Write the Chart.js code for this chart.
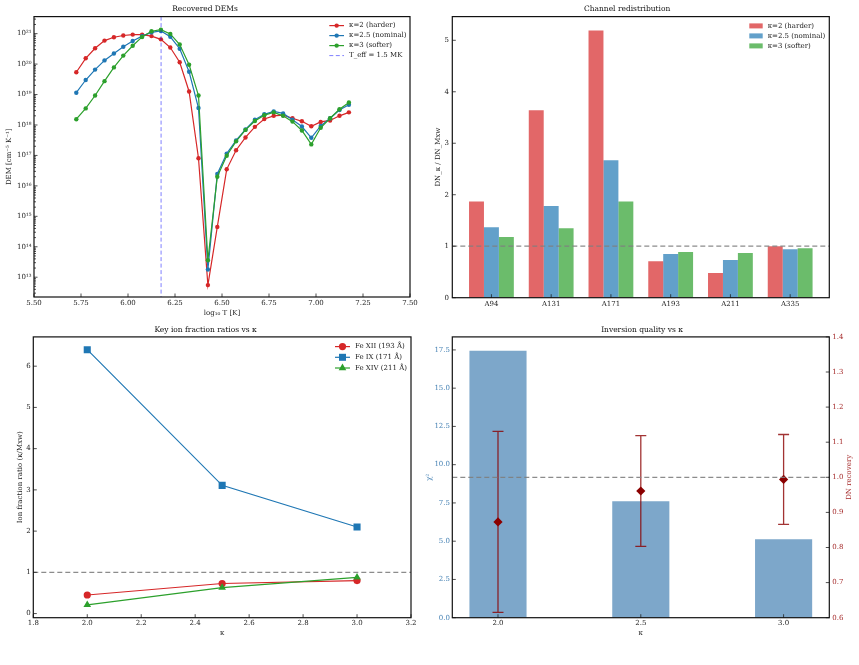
<!DOCTYPE html>
<html>
<head>
<meta charset="utf-8">
<script src="https://cdn.jsdelivr.net/npm/chart.js@4.4.1/dist/chart.umd.min.js"></script>
<style>
  body { margin: 0; background: #fff; width: 859px; height: 665px; position: relative; overflow: hidden; }
  canvas { position: absolute; }
</style>
</head>
<body>
<canvas id="dem" width="425" height="320" style="left:0;top:0"></canvas>
<canvas id="chan" width="434" height="320" style="left:425px;top:0"></canvas>
<canvas id="ion" width="425" height="345" style="left:0;top:320px"></canvas>
<canvas id="qual" width="434" height="345" style="left:425px;top:320px"></canvas>
<script>
// ---- data ----
const kappaLabels = ["κ=2 (harder)", "κ=2.5 (nominal)", "κ=3 (softer)"];

// Recovered DEMs
const logT = [5.725, 5.775, 5.825, 5.875, 5.925, 5.975, 6.025, 6.075, 6.125, 6.175,
  6.225, 6.275, 6.325, 6.375, 6.425, 6.475, 6.525, 6.575, 6.625, 6.675,
  6.725, 6.775, 6.825, 6.875, 6.925, 6.975, 7.025, 7.075, 7.125, 7.175];
const demK2 = [5.4e19, 1.55e20, 3.3e20, 5.9e20, 7.6e20, 8.7e20, 9.3e20, 9.3e20, 8.3e20, 6.5e20,
  3.5e20, 1.15e20, 1.26e19, 8.1e16, 5.5e12, 4.5e14, 3.5e16, 1.48e17, 3.9e17, 8.7e17,
  1.58e18, 2.0e18, 2.1e18, 1.66e18, 1.32e18, 9.1e17, 1.26e18, 1.41e18, 2.0e18, 2.6e18];
const demK25 = [1.15e19, 3.0e19, 6.6e19, 1.32e20, 2.24e20, 3.7e20, 5.75e20, 8.3e20, 1.1e21, 1.23e21,
  7.9e20, 3.2e20, 5.6e19, 3.6e18, 1.8e13, 2.45e16, 1.15e17, 3.1e17, 7.1e17, 1.48e18,
  2.24e18, 2.8e18, 2.4e18, 1.48e18, 8.9e17, 3.8e17, 9.3e17, 1.66e18, 3.1e18, 4.6e18];
const demK3 = [1.55e18, 3.5e18, 9.3e18, 2.75e19, 7.8e19, 1.9e20, 4.0e20, 7.8e20, 1.2e21, 1.35e21,
  9.8e20, 4.4e20, 9.5e19, 9.3e18, 3.6e13, 2.0e16, 9.8e16, 2.9e17, 6.9e17, 1.35e18,
  2.1e18, 2.6e18, 2.0e18, 1.29e18, 6.6e17, 2.3e17, 8.1e17, 1.66e18, 3.3e18, 5.5e18];
const tEffLog = 6.176; // log10(1.5 MK)
const demXTicks = [5.5, 5.75, 6.0, 6.25, 6.5, 6.75, 7.0, 7.25, 7.5];
const demYExps = [13, 14, 15, 16, 17, 18, 19, 20, 21];

// Channel redistribution
const channels = ["A94", "A131", "A171", "A193", "A211", "A335"];
const chanK2 = [1.87, 3.64, 5.19, 0.71, 0.48, 1.00];
const chanK25 = [1.37, 1.78, 2.67, 0.85, 0.73, 0.94];
const chanK3 = [1.18, 1.35, 1.87, 0.89, 0.87, 0.96];
const chanYTicks = [0, 1, 2, 3, 4, 5];

// Key ion fraction ratios
const kappas = [2.0, 2.5, 3.0];
const ionLabels = ["Fe XII (193 Å)", "Fe IX (171 Å)", "Fe XIV (211 Å)"];
const feXII = [0.45, 0.73, 0.80];
const feIX = [6.40, 3.11, 2.10];
const feXIV = [0.21, 0.63, 0.88];
const ionXTicks = [1.8, 2.0, 2.2, 2.4, 2.6, 2.8, 3.0, 3.2];
const ionYTicks = [0, 1, 2, 3, 4, 5, 6];

// Inversion quality
const chi2 = [17.45, 7.61, 5.13];
const dnRecovery = [0.873, 0.961, 0.994];
const dnErr = [0.258, 0.158, 0.128];
const chi2Ticks = [0, 2.5, 5, 7.5, 10, 12.5, 15, 17.5];
const dnTicks = [0.6, 0.7, 0.8, 0.9, 1.0, 1.1, 1.2, 1.3, 1.4];
const qualXTicks = [2.0, 2.5, 3.0];

// ---- style ----
const RED = "#d62728", BLUE = "#1f77b4", GREEN = "#2ca02c";
const DARKRED = "#8b0000", STEEL = "#4682b4";
const GRAYDASH = { color: "rgba(128,128,128,0.9)", width: 1.2, dash: [5, 3] };

Chart.defaults.font.family = "'DejaVu Serif', serif";
Chart.defaults.font.size = 7;
Chart.defaults.color = "#222";
Chart.defaults.animation = false;

const sup = n => String(n).split("").map(c => "⁰¹²³⁴⁵⁶⁷⁸⁹"[+c]).join("");
const xy = (xs, ys) => xs.map((x, i) => ({ x: x, y: ys[i] }));

function axis(o) {
  return {
    type: o.type || "linear",
    position: o.position,
    min: o.min,
    max: o.max,
    offset: false,
    grid: { display: false, drawTicks: false },
    border: { display: false },
    afterBuildTicks: o.build || (s => { s.ticks = o.ticks.map(v => ({ value: v })); }),
    afterFit: s => { if (s.isHorizontal()) s.height = o.size; else s.width = o.size; },
    ticks: { autoSkip: false, maxRotation: 0, padding: o.pad, color: o.color || "#222", font: { size: 7 }, callback: o.fmt },
    title: o.title
      ? { display: true, text: o.title, color: o.titleColor || "#222", font: { size: 7 }, padding: o.titlePad }
      : { display: false }
  };
}

function title(text, top, bottom) {
  return { display: true, text: text, color: "#111", font: { size: 7.5, weight: "normal" }, padding: { top: top, bottom: bottom } };
}

function marker(ctx, style, x, y, r, color) {
  ctx.fillStyle = color;
  ctx.beginPath();
  if (style === "circle") ctx.arc(x, y, r, 0, Math.PI * 2);
  else if (style === "rect") ctx.rect(x - r, y - r, 2 * r, 2 * r);
  else if (style === "triangle") {
    ctx.moveTo(x, y - r); ctx.lineTo(x + r * 0.866, y + r * 0.5); ctx.lineTo(x - r * 0.866, y + r * 0.5); ctx.closePath();
  }
  ctx.fill();
}

// frame, inward ticks, reference lines, legend, error bars
const decor = {
  id: "decor",
  beforeDatasetDraw(chart, args, o) {
    if (!o.errors || args.index !== o.errors.dataset) return;
    const { ctx } = chart, e = o.errors;
    const sx = chart.scales.x, sy = chart.scales[e.axis];
    ctx.save();
    ctx.strokeStyle = e.color; ctx.lineWidth = 1.3;
    e.x.forEach((x, i) => {
      const px = sx.getPixelForValue(x);
      const lo = sy.getPixelForValue(e.y[i] - e.err[i]), hi = sy.getPixelForValue(e.y[i] + e.err[i]);
      ctx.beginPath();
      ctx.moveTo(px, lo); ctx.lineTo(px, hi);
      ctx.moveTo(px - 5.5, lo); ctx.lineTo(px + 5.5, lo);
      ctx.moveTo(px - 5.5, hi); ctx.lineTo(px + 5.5, hi);
      ctx.stroke();
    });
    ctx.restore();
  },
  afterDatasetsDraw(chart, args, o) {
    const { ctx, chartArea: a } = chart;
    ctx.save();
    (o.refLines || []).forEach(r => {
      const s = chart.scales[r.scale], p = s.getPixelForValue(r.value);
      ctx.beginPath();
      ctx.setLineDash(r.dash); ctx.strokeStyle = r.color; ctx.lineWidth = r.width;
      if (s.isHorizontal()) { ctx.moveTo(p, a.top); ctx.lineTo(p, a.bottom); }
      else { ctx.moveTo(a.left, p); ctx.lineTo(a.right, p); }
      ctx.stroke();
    });
    ctx.setLineDash([]);

    // inward tick marks
    Object.values(chart.scales).forEach(s => {
      ctx.strokeStyle = "#222"; ctx.lineWidth = 0.8;
      s.ticks.forEach(t => {
        const p = s.getPixelForValue(t.value), len = t.minor ? 2 : 3.5;
        if (p < (s.isHorizontal() ? a.left : a.top) - 0.5 || p > (s.isHorizontal() ? a.right : a.bottom) + 0.5) return;
        ctx.beginPath();
        if (s.position === "bottom") { ctx.moveTo(p, a.bottom); ctx.lineTo(p, a.bottom - len); }
        else if (s.position === "left") { ctx.moveTo(a.left, p); ctx.lineTo(a.left + len, p); }
        else { ctx.moveTo(a.right, p); ctx.lineTo(a.right - len, p); }
        ctx.stroke();
      });
    });

    // frame
    ctx.strokeStyle = "#111"; ctx.lineWidth = 1.2;
    ctx.strokeRect(a.left, a.top, a.right - a.left, a.bottom - a.top);

    // legend inside the axes
    const lg = o.legend;
    if (lg) {
      ctx.font = "7px 'DejaVu Serif', serif";
      ctx.textBaseline = "middle"; ctx.textAlign = "left";
      lg.items.forEach((it, i) => {
        const x0 = a.right - lg.dx, y = a.top + lg.dy + i * lg.row;
        if (it.kind === "box") {
          ctx.fillStyle = it.color; ctx.fillRect(x0, y - 2.5, lg.len, 5);
        } else {
          ctx.beginPath();
          ctx.strokeStyle = it.color; ctx.lineWidth = it.kind === "dash" ? 1 : 1.2;
          ctx.setLineDash(it.kind === "dash" ? [4, 2.5] : []);
          ctx.moveTo(x0, y); ctx.lineTo(x0 + lg.len, y); ctx.stroke();
          ctx.setLineDash([]);
          if (it.marker) marker(ctx, it.marker, x0 + lg.len / 2, y, it.r, it.color);
        }
        ctx.fillStyle = "#222";
        ctx.fillText(it.label, x0 + lg.len + lg.gap, y);
      });
    }

    // extra axis texts
    (o.texts || []).forEach(t => {
      ctx.save();
      ctx.translate(t.x, (a.top + a.bottom) / 2);
      ctx.rotate(-Math.PI / 2);
      ctx.font = "7px 'DejaVu Serif', serif";
      ctx.fillStyle = t.color; ctx.textAlign = "center"; ctx.textBaseline = "middle";
      ctx.fillText(t.text, 0, 0);
      ctx.restore();
    });
    ctx.restore();
  }
};
Chart.register(decor);

const noLegend = { legend: { display: false }, tooltip: { enabled: false } };

// ---- (a) Recovered DEMs ----
function demSet(label, data, color, order) {
  return {
    label: label, data: xy(logT, data), showLine: true, order: order,
    borderColor: color, backgroundColor: color, borderWidth: 1.2,
    pointRadius: 2.2, pointBorderWidth: 0, pointHoverRadius: 2.2
  };
}
new Chart(document.getElementById("dem"), {
  type: "scatter",
  data: {
    datasets: [
      demSet(kappaLabels[0], demK2, RED, 3),
      demSet(kappaLabels[1], demK25, BLUE, 2),
      demSet(kappaLabels[2], demK3, GREEN, 1)
    ]
  },
  options: {
    responsive: false,
    layout: { padding: { top: 0, left: 0, right: 15, bottom: 0 } },
    scales: {
      x: axis({ position: "bottom", min: 5.5, max: 7.5, ticks: demXTicks, size: 23, pad: 2,
        fmt: v => v.toFixed(2), title: "log₁₀ T [K]", titlePad: { top: 0, bottom: 2.5 } }),
      y: axis({ type: "logarithmic", position: "left", min: 2.24e12, max: 3.63e21, size: 34, pad: 2.5,
        build: s => {
          const t = [];
          for (let e = demYExps[0] - 1; e <= demYExps[demYExps.length - 1]; e++) {
            for (let k = 1; k <= 9; k++) {
              const v = k * Math.pow(10, e);
              if (v >= s.min && v <= s.max) t.push({ value: v, major: k === 1, minor: k !== 1 });
            }
          }
          s.ticks = t;
        },
        fmt: (v, i, ticks) => ticks[i].major ? "10" + sup(Math.round(Math.log10(v))) : "",
        title: "DEM [cm⁻⁵ K⁻¹]", titlePad: { top: 5.1, bottom: 0 } })
    },
    plugins: {
      ...noLegend,
      title: title("Recovered DEMs", 4.8, 2.8),
      decor: {
        refLines: [{ scale: "x", value: tEffLog, color: "rgba(0,0,255,0.5)", width: 1, dash: [4, 2.5] }],
        legend: { dx: 80.7, dy: 9, row: 10, len: 14.7, gap: 5, items: [
          { label: kappaLabels[0], color: RED, marker: "circle", r: 2.2 },
          { label: kappaLabels[1], color: BLUE, marker: "circle", r: 2.2 },
          { label: kappaLabels[2], color: GREEN, marker: "circle", r: 2.2 },
          { label: "T_eff = 1.5 MK", color: "rgba(0,0,255,0.5)", kind: "dash" }
        ] }
      }
    }
  }
});

// ---- (b) Channel redistribution ----
const chanIdx = channels.map((c, i) => i);
function chanSet(label, data, color) {
  return { label: label, data: xy(chanIdx, data), backgroundColor: color, borderWidth: 0, barPercentage: 1, categoryPercentage: 0.75 };
}
new Chart(document.getElementById("chan"), {
  type: "bar",
  data: {
    datasets: [
      chanSet(kappaLabels[0], chanK2, "rgba(214,39,40,0.7)"),
      chanSet(kappaLabels[1], chanK25, "rgba(31,119,180,0.7)"),
      chanSet(kappaLabels[2], chanK3, "rgba(44,160,44,0.7)")
    ]
  },
  options: {
    responsive: false,
    layout: { padding: { top: 0, left: 0, right: 29.7, bottom: 0 } },
    scales: {
      x: axis({ position: "bottom", min: -0.655, max: 5.655, ticks: chanIdx, size: 22.3, pad: 2,
        fmt: v => channels[v] }),
      y: axis({ position: "left", min: 0, max: 5.46, ticks: chanYTicks, size: 27.3, pad: 3.3,
        fmt: v => String(v), title: "DN_κ / DN_Mxw", titlePad: { top: 9.1, bottom: 0 } })
    },
    plugins: {
      ...noLegend,
      title: title("Channel redistribution", 4.8, 2.8),
      decor: {
        refLines: [Object.assign({ scale: "y", value: 1 }, GRAYDASH)],
        legend: { dx: 80, dy: 9.3, row: 10, len: 13.4, gap: 5, items: [
          { label: kappaLabels[0], color: "rgba(214,39,40,0.7)", kind: "box" },
          { label: kappaLabels[1], color: "rgba(31,119,180,0.7)", kind: "box" },
          { label: kappaLabels[2], color: "rgba(44,160,44,0.7)", kind: "box" }
        ] }
      }
    }
  }
});

// ---- (c) Key ion fraction ratios ----
function ionSet(label, data, color, style, r, order) {
  return {
    label: label, data: xy(kappas, data), showLine: true, order: order,
    borderColor: color, backgroundColor: color, borderWidth: 1.2,
    pointStyle: style, pointRadius: r, pointBorderWidth: 0, pointHoverRadius: r
  };
}
new Chart(document.getElementById("ion"), {
  type: "scatter",
  data: {
    datasets: [
      ionSet(ionLabels[0], feXII, RED, "circle", 3.6, 3),
      ionSet(ionLabels[1], feIX, BLUE, "rect", 5, 2),
      ionSet(ionLabels[2], feXIV, GREEN, "triangle", 4.4, 1)
    ]
  },
  options: {
    responsive: false,
    layout: { padding: { top: 0, left: 0, right: 14, bottom: 0 } },
    scales: {
      x: axis({ position: "bottom", min: 1.8, max: 3.2, ticks: ionXTicks, size: 47.3, pad: 1.4,
        fmt: v => v.toFixed(1), title: "κ", titlePad: { top: 0, bottom: 27.5 } }),
      y: axis({ position: "left", min: -0.1, max: 6.71, ticks: ionYTicks, size: 33.3, pad: 2.6,
        fmt: v => String(v), title: "Ion fraction ratio (κ/Mxw)", titlePad: { top: 15.8, bottom: 0 } })
    },
    plugins: {
      ...noLegend,
      title: title("Key ion fraction ratios vs κ", 5.5, 2.4),
      decor: {
        refLines: [Object.assign({ scale: "y", value: 1 }, GRAYDASH)],
        legend: { dx: 76, dy: 9.7, row: 10.7, len: 15, gap: 5, items: [
          { label: ionLabels[0], color: RED, marker: "circle", r: 3.6 },
          { label: ionLabels[1], color: BLUE, marker: "rect", r: 3.5 },
          { label: ionLabels[2], color: GREEN, marker: "triangle", r: 4.4 }
        ] }
      }
    }
  }
});

// ---- (d) Inversion quality ----
new Chart(document.getElementById("qual"), {
  type: "bar",
  data: {
    datasets: [
      { type: "scatter", label: "DN recovery", data: xy(kappas, dnRecovery), yAxisID: "y2", order: 0,
        pointStyle: "rectRot", pointRadius: 4.6, pointHoverRadius: 4.6, pointBorderWidth: 0,
        backgroundColor: DARKRED, borderColor: DARKRED },
      { type: "bar", label: "χ²", data: xy(kappas, chi2), yAxisID: "y", order: 1,
        backgroundColor: "rgba(70,130,180,0.7)", borderWidth: 0, barPercentage: 1, categoryPercentage: 0.4 }
    ]
  },
  options: {
    responsive: false,
    layout: { padding: 0 },
    scales: {
      x: axis({ position: "bottom", min: 1.84, max: 3.16, ticks: qualXTicks, size: 47.3, pad: 1.4,
        fmt: v => v.toFixed(1), title: "κ", titlePad: { top: 0, bottom: 27.5 } }),
      y: axis({ position: "left", min: 0, max: 18.35, ticks: chi2Ticks, size: 27.3, pad: 2.3, color: STEEL,
        fmt: v => v.toFixed(1), title: "χ²", titleColor: STEEL, titlePad: { top: 0, bottom: 0 } }),
      y2: axis({ position: "right", min: 0.6, max: 1.4, ticks: dnTicks, size: 29.7, pad: 3, color: "#a52a2a",
        fmt: v => v.toFixed(1) })
    },
    plugins: {
      ...noLegend,
      title: title("Inversion quality vs κ", 5.5, 2.4),
      decor: {
        refLines: [Object.assign({ scale: "y2", value: 1.0 }, GRAYDASH)],
        errors: { dataset: 0, axis: "y2", x: kappas, y: dnRecovery, err: dnErr, color: "rgba(139,0,0,0.8)" },
        texts: [{ text: "DN recovery", x: 424, color: "#a52a2a" }]
      }
    }
  }
});
</script>
</body>
</html>
